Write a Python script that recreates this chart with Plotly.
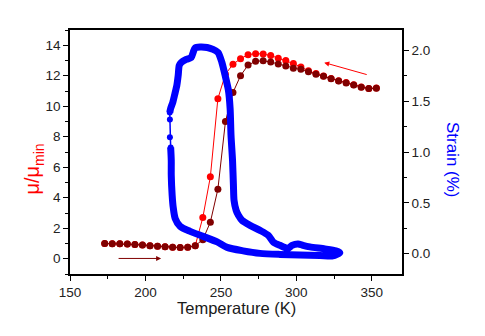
import plotly.graph_objects as go

# ---- data ----
temps = [173, 178, 183, 188, 193, 198, 203, 208, 213, 218, 223, 228, 233,
         238, 243, 248, 253, 258, 263, 268, 273, 278, 283, 288, 293, 298,
         303, 308, 313, 318, 323, 328, 333, 338, 343, 348, 353]

mu_heating = [1.0, 0.99, 0.98, 0.96, 0.93, 0.90, 0.86, 0.82, 0.78, 0.75, 0.73, 0.75, 0.86,
              1.25, 2.4, 4.56, 9.0, 10.9, 12.0, 12.7, 12.95, 12.98, 12.9, 12.77, 12.64, 12.5,
              12.42, 12.27, 12.1, 11.96, 11.8, 11.66, 11.53, 11.39, 11.25, 11.16, 11.18]

mu_cooling = [1.0, 0.99, 0.98, 0.96, 0.93, 0.90, 0.86, 0.82, 0.78, 0.75, 0.73, 0.75, 0.86,
              2.7, 5.37, 10.5, 12.1, 12.75, 13.12, 13.38, 13.45, 13.42, 13.33, 13.15, 13.0, 12.8,
              12.58, 12.32, 12.14, 11.98, 11.82, 11.68, 11.55, 11.41, 11.27, 11.17, 11.2]

# strain loop (dense band)
strain_T = [216.7, 217.1, 217.1, 217.7, 218.4, 219.7, 223.0, 229.6, 238.2, 247.5,
            254.1, 264.7, 275.9, 289.1, 302.4, 315.6, 324.2, 328.8,
            326.2, 318.9, 309.0, 304.4, 301.1, 297.1, 294.5,
            289.1, 284.7, 281.4, 275.9, 269.3, 264.0, 261.6, 260.1, 258.7, 258.3,
            257.7, 256.7, 256.1, 255.0, 252.8, 250.6, 248.1, 244.8, 240.9, 236.2,
            232.9, 231.6, 230.3, 227.0, 223.7, 222.4, 221.7, 220.8, 219.4, 218.1,
            216.7, 216.1]
strain_pct = [1.045, 0.917, 0.77, 0.573, 0.455, 0.347, 0.268, 0.219, 0.17, 0.116,
              0.062, 0.028, 0.003, -0.007, -0.012, -0.017, -0.022, 0.01,
              0.028, 0.047, 0.067, 0.082, 0.096, 0.082, 0.052,
              0.082, 0.114, 0.18, 0.229, 0.278, 0.327, 0.377, 0.426, 0.524, 0.672,
              0.917, 1.163, 1.429, 1.606, 1.753, 1.884, 1.979, 2.009, 2.028, 2.033,
              2.024, 1.979, 1.93, 1.91, 1.881, 1.852, 1.753, 1.655, 1.566, 1.488,
              1.429, 1.389]

# sparse strain points (fast jump region)
sparse_T = [216.1, 216.2, 216.2, 216.7]
sparse_pct = [1.389, 1.32, 1.144, 1.045]

x_ticks = [150, 200, 250, 300, 350]
mu_ticks = [0, 2, 4, 6, 8, 10, 12, 14]
strain_ticks = [0.0, 0.5, 1.0, 1.5, 2.0]

RED = "#ff0000"
DARK = "#800000"
BLUE = "#0000ff"
FONT = "Arial, Liberation Sans, sans-serif"

fig = go.Figure()

fig.add_trace(go.Scatter(x=strain_T, y=strain_pct, yaxis="y2", mode="lines",
                         line=dict(color=BLUE, width=7, shape="spline", smoothing=0.7),
                         hoverinfo="skip"))
fig.add_trace(go.Scatter(x=sparse_T, y=sparse_pct, yaxis="y2", mode="lines+markers",
                         line=dict(color=BLUE, width=1.5),
                         marker=dict(color=BLUE, size=6), hoverinfo="skip"))
fig.add_trace(go.Scatter(x=temps, y=mu_cooling, mode="lines+markers",
                         line=dict(color=RED, width=1),
                         marker=dict(color=RED, size=7)))
fig.add_trace(go.Scatter(x=temps, y=mu_heating, mode="lines+markers",
                         line=dict(color=DARK, width=1),
                         marker=dict(color=DARK, size=7)))

axis_common = dict(showline=True, linecolor="black", linewidth=1.5,
                   ticks="outside", ticklen=5, tickwidth=1.2, tickcolor="black",
                   showgrid=False, zeroline=False,
                   tickfont=dict(family=FONT, size=13.5, color="#222222"))

fig.update_layout(
    width=485, height=336,
    margin=dict(l=70, r=83, t=30, b=62),
    paper_bgcolor="white", plot_bgcolor="white",
    showlegend=False,
    xaxis=dict(range=[150, 370], tickvals=x_ticks, mirror=True,
               minor=dict(dtick=25, tick0=150, ticks="outside", ticklen=3,
                          tickwidth=1.2, tickcolor="black"),
               **axis_common),
    yaxis=dict(range=[-1, 15], tickvals=mu_ticks,
               minor=dict(dtick=1, tick0=0, ticks="outside", ticklen=3,
                          tickwidth=1.2, tickcolor="black"),
               **axis_common),
    yaxis2=dict(range=[-0.2, 2.2], tickvals=strain_ticks, tickformat=".1f",
                overlaying="y", side="right",
                minor=dict(dtick=0.25, tick0=0, ticks="outside", ticklen=3,
                           tickwidth=1.2, tickcolor="black"),
                **axis_common),
    annotations=[
        dict(text="Temperature (K)", xref="paper", yref="paper", x=0.5, y=-0.14,
             xanchor="center", yanchor="middle", showarrow=False,
             font=dict(family=FONT, size=16.5, color="#1a1a1a")),
        dict(text="μ/μ<sub>min</sub>", xref="paper", yref="paper", x=-0.11, y=0.43,
             xanchor="center", yanchor="middle", showarrow=False, textangle=-90,
             font=dict(family=FONT, size=20, color=RED)),
        dict(text="Strain (%)", xref="paper", yref="paper", x=1.154, y=0.467,
             xanchor="center", yanchor="middle", showarrow=False, textangle=90,
             font=dict(family=FONT, size=17, color=BLUE)),
        dict(x=318.5, y=12.86, ax=347.6, ay=12.05, xref="x", yref="y",
             axref="x", ayref="y", text="", showarrow=True,
             arrowhead=2, arrowsize=1, arrowwidth=1, arrowcolor=RED),
        dict(x=210.4, y=0.02, ax=181.2, ay=0.02, xref="x", yref="y",
             axref="x", ayref="y", text="", showarrow=True,
             arrowhead=2, arrowsize=1, arrowwidth=1, arrowcolor=DARK),
    ],
)

fig.write_html("out.html")
